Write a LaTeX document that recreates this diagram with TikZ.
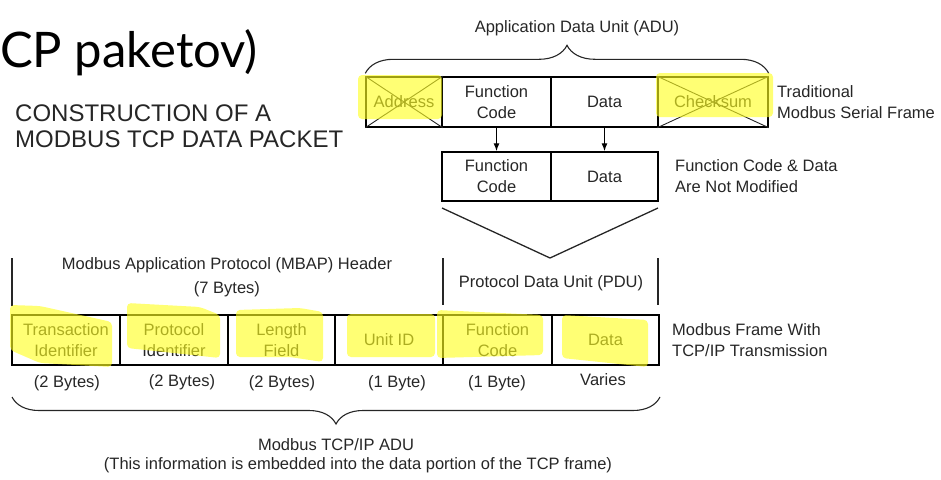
\documentclass[tikz,border=0pt]{standalone}
\usepackage{fontspec}
\setmainfont{Liberation Sans}
\newfontfamily\slidefont{Lato}
\usetikzlibrary{arrows.meta,decorations.pathreplacing}
\definecolor{ink}{HTML}{262626}
\definecolor{hilite}{RGB}{255,255,30}
\newcommand\lblfont{\fontsize{16.5}{21}\selectfont}
\tikzset{
  cell/.style={draw=black, line width=1.4pt, minimum height=50pt, inner sep=0pt, align=center, font=\lblfont, text=ink},
  lbl/.style={inner sep=0pt, align=center, font=\lblfont, text=ink},
  side/.style={lbl, anchor=west, align=left},
  marker/.style={fill=hilite, fill opacity=0.62, draw=none, rounded corners=4pt},
  crossed/.style={draw=ink, line width=0.9pt},
  bracket/.style={decorate, line width=1.1pt, draw=ink}
}
\begin{document}
\begin{tikzpicture}[x=1pt, y=-1pt, >={Latex[length=8pt,width=6pt]}]
\useasboundingbox (0,0) rectangle (941,479);

% slide title and heading
\node[anchor=base west, inner sep=0pt, font=\slidefont\fontsize{49}{49}\selectfont] (title) at (0,67) {CP paketov)};
\node[anchor=north west, inner sep=0pt, align=left, font=\fontsize{24}{26}\selectfont, text=ink] (heading) at (15,105) {CONSTRUCTION OF A\\MODBUS TCP DATA PACKET};

% traditional serial frame
\node[cell, minimum width=76pt] (addr) at (404,102) {Address};
\node[cell, minimum width=109pt] (fc) at (496.5,102) {Function\\Code};
\node[cell, minimum width=107pt] (data) at (604.5,102) {Data};
\node[cell, minimum width=110pt] (cks) at (713,102) {Checksum};
\draw[crossed] (addr.north west) -- (addr.south east) (addr.south west) -- (addr.north east);
\draw[crossed] (cks.north west) -- (cks.south east) (cks.south west) -- (cks.north east);
\node[side] (serial) at (777,102) {Traditional\\Modbus Serial Frame};
\draw[bracket, decoration={brace, amplitude=28pt}] ([yshift=3pt]addr.north west) -- ([yshift=3pt]cks.north east);
\node[lbl] (adu) at (577,28) {Application Data Unit (ADU)};

% unchanged part
\node[cell, minimum width=109pt, minimum height=49pt] (fc2) at (496.5,176.5) {Function\\Code};
\node[cell, minimum width=107pt, minimum height=49pt] (data2) at (604.5,176.5) {Data};
\node[side] (kept) at (675,176) {Function Code \& Data\\Are Not Modified};
\draw[->, line width=1.2pt] (fc) -- (fc2);
\draw[->, line width=1.2pt] (data) -- (data2);

% funnel into the PDU
\coordinate (vl) at (442,208);
\coordinate (vtip) at (550,258);
\coordinate (vr) at (658,208);
\draw[line width=1.3pt, ink] (vl) -- (vtip) -- (vr);

% MBAP header / PDU
\draw[line width=1.1pt, ink] (12,258) -- (12,306);
\draw[line width=1.1pt, ink] (443,258) -- (443,305);
\draw[line width=1.1pt, ink] (658,258) -- (658,305);
\node[lbl, font=\fontsize{16.5}{24}\selectfont] (mbap) at (227,277) {Modbus Application Protocol (MBAP) Header\\(7 Bytes)};
\node[lbl] (pdu) at (551,283) {Protocol Data Unit (PDU)};

% TCP/IP frame
\node[cell, minimum width=108pt] (tid) at (66,340) {Transaction\\Identifier};
\node[cell, minimum width=108pt] (pid) at (174,340) {Protocol\\Identifier};
\node[cell, minimum width=107pt] (len) at (281.5,340) {Length\\Field};
\node[cell, minimum width=108pt] (uid) at (389,340) {Unit ID};
\node[cell, minimum width=109pt] (fcode) at (497.5,340) {Function\\Code};
\node[cell, minimum width=107pt] (pdata) at (605.5,340) {Data};
\node[side] (tcpframe) at (672,340) {Modbus Frame With\\TCP/IP Transmission};

% sizes
\node[lbl] (s1) at (67,383) {(2 Bytes)};
\node[lbl] (s2) at (182,382) {(2 Bytes)};
\node[lbl] (s3) at (282,383) {(2 Bytes)};
\node[lbl] (s4) at (397,383) {(1 Byte)};
\node[lbl] (s5) at (497,383) {(1 Byte)};
\node[lbl] (s6) at (603,380) {Varies};

% whole ADU
\draw[bracket, decoration={brace, amplitude=27pt}] (660,397) -- (12,397);
\node[lbl] (tcpadu) at (336,445) {Modbus TCP/IP ADU};
\node[lbl] (note) at (358,465) {(This information is embedded into the data portion of the TCP frame)};

% marker strokes
\fill[marker] (358,75) rectangle (442,119);
\fill[marker] (656,73) rectangle (773,117);
\fill[marker] (10,305) -- (40,306) -- (112,322) -- (112,367) -- (40,363) -- (10,350) -- cycle;
\fill[marker] (127,303) -- (200,307) -- (220,315) -- (220,358) -- (127,348) -- cycle;
\fill[marker] (236,310) -- (300,308) -- (323,312) -- (323,362) -- (290,357) -- (236,357) -- cycle;
\fill[marker] (347,314) rectangle (435,357);
\fill[marker] (437,310) -- (543,315) -- (543,355) -- (437,358) -- cycle;
\fill[marker] (562,315) -- (648,320) -- (648,367) -- (600,362) -- (562,358) -- cycle;
\end{tikzpicture}
\end{document}
